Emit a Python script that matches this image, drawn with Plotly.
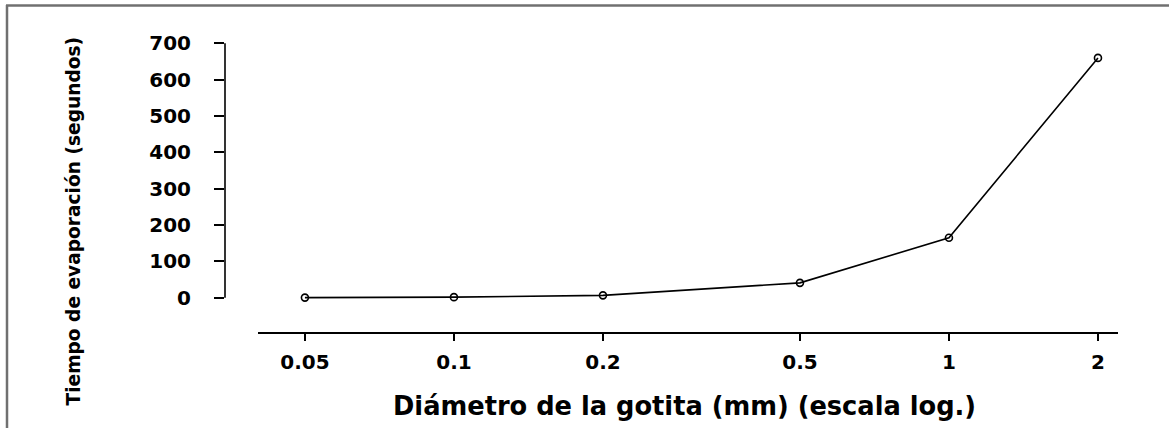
import plotly.graph_objects as go

# Data
diametro_mm = [0.05, 0.1, 0.2, 0.5, 1, 2]
tiempo_s = [0.4, 1.7, 6.6, 41, 165, 660]
x_tickvals = [0.05, 0.1, 0.2, 0.5, 1, 2]
x_ticktext = ["0.05", "0.1", "0.2", "0.5", "1", "2"]
y_tickvals = [0, 100, 200, 300, 400, 500, 600, 700]
x_title = "Diámetro de la gotita (mm) (escala log.)"
y_title = "Tiempo de evaporación (segundos)"

W, H = 1169, 428
L, R, T, B = 225, 51, 43, 95
pw = W - L - R
ph = H - T - B

def px_x(p):
    return (p - L) / pw

def px_y(p):
    return (H - B - p) / ph

FONT = "DejaVu Sans"

fig = go.Figure()
fig.add_trace(go.Scatter(
    x=diametro_mm, y=tiempo_s, mode="lines+markers",
    line=dict(color="black", width=1.6),
    marker=dict(symbol="circle-open", size=7, color="black", line=dict(width=1.6)),
    showlegend=False,
))

fig.update_layout(
    width=W, height=H,
    margin=dict(l=L, r=R, t=T, b=B, pad=0),
    paper_bgcolor="white", plot_bgcolor="white",
    font=dict(family=FONT, color="black"),
    xaxis=dict(
        type="log", range=[-1.4625, 0.3415],
        tickvals=x_tickvals, ticktext=x_ticktext,
        ticks="outside", ticklen=7, tickwidth=1.5, tickcolor="black",
        showline=False, showgrid=False, zeroline=False,
        tickfont=dict(family=FONT, size=20, color="black", weight="bold"),
        ticklabelstandoff=4,
    ),
    yaxis=dict(
        range=[-97, 701],
        tickvals=y_tickvals,
        ticks="outside", ticklen=10, tickwidth=1.5, tickcolor="black",
        showline=False, showgrid=False, zeroline=False,
        tickfont=dict(family=FONT, size=20, color="black", weight="bold"),
        ticklabelstandoff=19,
    ),
    annotations=[
        dict(text="<b>" + x_title + "</b>", xref="paper", yref="paper",
             x=px_x(684), y=px_y(406), xanchor="center", yanchor="middle",
             showarrow=False, font=dict(family=FONT, size=25.7, color="black")),
        dict(text="<b>" + y_title + "</b>", xref="paper", yref="paper",
             x=px_x(73), y=px_y(221.5), xanchor="center", yanchor="middle",
             textangle=-90, showarrow=False,
             font=dict(family=FONT, size=18.6, color="black")),
    ],
    shapes=[
        # detached y axis line (0..700)
        dict(type="line", xref="paper", yref="y", x0=0, x1=0, y0=0, y1=700,
             line=dict(color="black", width=1.6)),
        # detached x axis line
        dict(type="line", xref="paper", yref="paper", x0=px_x(258), x1=1, y0=0, y1=0,
             line=dict(color="black", width=1.8)),
        # image frame (top and left)
        dict(type="line", xref="paper", yref="paper", x0=px_x(6), x1=px_x(W + 5),
             y0=px_y(5.5), y1=px_y(5.5), line=dict(color="#707070", width=2.5)),
        dict(type="line", xref="paper", yref="paper", x0=px_x(7), x1=px_x(7),
             y0=px_y(5), y1=px_y(H + 5), line=dict(color="#707070", width=2.5)),
    ],
)

fig.write_html("out.html")
